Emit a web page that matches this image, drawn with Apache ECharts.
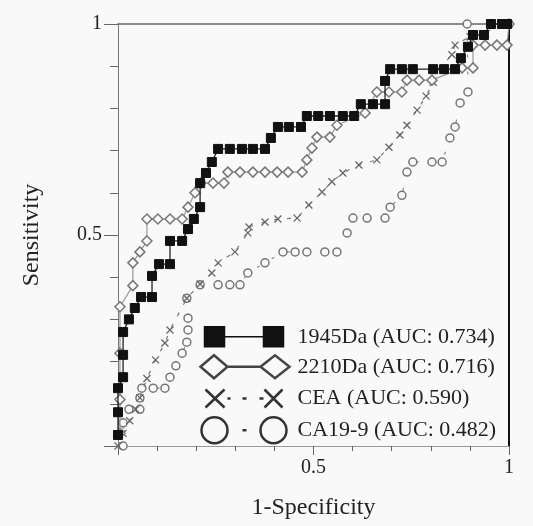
<!DOCTYPE html>
<html>
<head>
<meta charset="utf-8">
<script src="https://cdn.jsdelivr.net/npm/echarts@6/dist/echarts.min.js"></script>
<style>html,body{margin:0;padding:0;background:#f9f9f9;}#c{width:533px;height:526px;}</style>
</head>
<body>
<div id="c"></div>
<script>
// ---- data (1-Specificity, Sensitivity) ----
var seriesNames = ['1945Da (AUC: 0.734)', '2210Da (AUC: 0.716)', 'CEA (AUC: 0.590)', 'CA19-9 (AUC: 0.482)'];

var fpr1945 = [0, 0, 0, 0.013, 0.013, 0.013, 0.028, 0.043, 0.059, 0.087, 0.087, 0.105, 0.133, 0.133, 0.164, 0.179, 0.194, 0.21, 0.21, 0.225, 0.24, 0.256, 0.286, 0.317, 0.345, 0.376, 0.391, 0.409, 0.437, 0.468, 0.483, 0.512, 0.542, 0.575, 0.604, 0.621, 0.652, 0.683, 0.683, 0.696, 0.726, 0.754, 0.806, 0.834, 0.862, 0.877, 0.895, 0.908, 0.936, 0.954, 0.982, 0.995];
var sens1945 = [0.026, 0.08, 0.137, 0.163, 0.216, 0.27, 0.30, 0.327, 0.353, 0.353, 0.403, 0.431, 0.431, 0.486, 0.486, 0.514, 0.538, 0.566, 0.623, 0.647, 0.673, 0.704, 0.704, 0.704, 0.704, 0.704, 0.73, 0.756, 0.756, 0.756, 0.782, 0.782, 0.782, 0.782, 0.782, 0.81, 0.81, 0.81, 0.865, 0.893, 0.893, 0.893, 0.893, 0.893, 0.893, 0.919, 0.946, 0.974, 0.974, 1, 1, 1];

var fpr2210 = [0.005, 0.005, 0.005, 0.005, 0.038, 0.038, 0.056, 0.074, 0.074, 0.102, 0.133, 0.164, 0.179, 0.197, 0.212, 0.243, 0.271, 0.281, 0.312, 0.345, 0.376, 0.407, 0.435, 0.471, 0.483, 0.496, 0.509, 0.542, 0.56, 0.632, 0.662, 0.693, 0.726, 0.739, 0.77, 0.803, 0.88, 0.908, 0.908, 0.939, 0.969, 0.995, 1];
var sens2210 = [0.03, 0.11, 0.22, 0.33, 0.38, 0.434, 0.46, 0.486, 0.538, 0.538, 0.538, 0.538, 0.566, 0.6, 0.623, 0.623, 0.623, 0.649, 0.649, 0.649, 0.649, 0.649, 0.649, 0.649, 0.678, 0.706, 0.732, 0.732, 0.76, 0.789, 0.839, 0.839, 0.839, 0.867, 0.867, 0.867, 0.896, 0.896, 0.95, 0.95, 0.95, 0.95, 1];

var fprCEA = [0, 0.013, 0.03, 0.045, 0.056, 0.074, 0.096, 0.12, 0.133, 0.176, 0.21, 0.24, 0.256, 0.299, 0.332, 0.335, 0.376, 0.409, 0.458, 0.488, 0.522, 0.547, 0.575, 0.616, 0.662, 0.693, 0.721, 0.739, 0.765, 0.788, 0.806, 0.821, 0.854, 0.862, 0.9, 1];
var sensCEA = [0, 0.03, 0.06, 0.087, 0.114, 0.16, 0.204, 0.244, 0.275, 0.35, 0.384, 0.41, 0.434, 0.46, 0.505, 0.519, 0.531, 0.538, 0.54, 0.571, 0.602, 0.626, 0.647, 0.666, 0.678, 0.708, 0.737, 0.76, 0.796, 0.829, 0.862, 0.893, 0.927, 0.95, 0.97, 1];

var fprCA = [0.013, 0.013, 0.028, 0.056, 0.056, 0.061, 0.09, 0.12, 0.133, 0.148, 0.164, 0.176, 0.179, 0.179, 0.176, 0.21, 0.256, 0.286, 0.312, 0.332, 0.376, 0.422, 0.453, 0.483, 0.529, 0.56, 0.586, 0.601, 0.637, 0.683, 0.696, 0.726, 0.739, 0.754, 0.803, 0.829, 0.849, 0.862, 0.875, 0.895, 0.893, 1];
var sensCA = [0, 0.055, 0.087, 0.087, 0.114, 0.137, 0.137, 0.137, 0.163, 0.19, 0.22, 0.246, 0.275, 0.303, 0.35, 0.382, 0.382, 0.382, 0.382, 0.41, 0.434, 0.46, 0.46, 0.46, 0.46, 0.46, 0.505, 0.54, 0.54, 0.54, 0.566, 0.594, 0.649, 0.673, 0.673, 0.673, 0.73, 0.756, 0.813, 0.839, 1, 1];

var xTicks = ['0.5', '1'];
var yTicks = ['0.5', '1'];

function pairs(xs, ys) { return xs.map(function (x, i) { return [x, ys[i]]; }); }

var FONT = '"Liberation Serif", "Times New Roman", serif';
var xMark = 'path://M0,0L10,10M10,0L0,10';

var iconSquare = 'path://M0,0M93,28M5,4h20v20h-20zM25,14H64M64,4h20v20h-20z';
var iconDiamond = 'path://M0,0M93,28M1,14L14.5,2.5L28,14L14.5,25.5ZM28,14H61M61,14L75.5,2.5L90,14L75.5,25.5Z';
var iconX = 'path://M0,0M93,28M6,5L25,23M25,5L6,23M28,14H31M43,14H47M60,14H64M65,5L83,23M83,5L65,23';
var iconCircle = 'path://M0,0M93,28M2,14A13,13 0 1 0 28,14A13,13 0 1 0 2,14ZM43,14H47M61,14A13,13 0 1 0 87,14A13,13 0 1 0 61,14Z';

var chart = echarts.init(document.getElementById('c'), null, { renderer: 'canvas' });
chart.setOption({
  backgroundColor: '#f9f9f9',
  animation: false,
  grid: { left: 118, right: 24, top: 24, bottom: 80 },
  legend: {
    orient: 'vertical', left: 197, top: 322, padding: 0,
    itemWidth: 93, itemHeight: 28, itemGap: 0,
    textStyle: { fontFamily: FONT, fontSize: 22, color: '#222' },
    data: [
      { name: seriesNames[0], icon: iconSquare, itemStyle: { color: '#111', borderColor: '#111', borderWidth: 1.5 } },
      { name: seriesNames[1], icon: iconDiamond, itemStyle: { color: '#f9f9f9', borderColor: '#444', borderWidth: 2.5 } },
      { name: seriesNames[2], icon: iconX, itemStyle: { color: 'none', borderColor: '#333', borderWidth: 2.5 } },
      { name: seriesNames[3], icon: iconCircle, itemStyle: { color: '#f9f9f9', borderColor: '#333', borderWidth: 2.5 } }
    ]
  },
  xAxis: [{
    type: 'value', min: 0, max: 1, interval: 0.5, position: 'bottom',
    name: '1-Specificity', nameLocation: 'middle', nameGap: 50,
    nameTextStyle: { fontFamily: FONT, fontSize: 24, color: '#222' },
    axisLine: { show: true, onZero: false, lineStyle: { color: '#999', width: 1 } },
    axisTick: { show: true, length: 9, lineStyle: { color: '#666' } },
    minorTick: { show: true, splitNumber: 5, length: 5, lineStyle: { color: '#666' } },
    splitLine: { show: false },
    axisLabel: { fontFamily: FONT, fontSize: 20, color: '#222', margin: 12,
      formatter: function (v) { return v === 0.5 ? xTicks[0] : (v === 1 ? xTicks[1] : ''); } }
  }, {
    type: 'value', min: 0, max: 1, position: 'top',
    axisLine: { show: true, onZero: false, lineStyle: { color: '#666', width: 1.5 } },
    axisTick: { show: false }, axisLabel: { show: false }, splitLine: { show: false }
  }],
  yAxis: [{
    type: 'value', min: 0, max: 1, interval: 0.5, position: 'left',
    name: 'Sensitivity', nameLocation: 'middle', nameGap: 74, nameRotate: 90,
    nameTextStyle: { fontFamily: FONT, fontSize: 24, color: '#222' },
    axisLine: { show: true, onZero: false, lineStyle: { color: '#777', width: 1 } },
    axisTick: { show: true, length: 14, lineStyle: { color: '#666' } },
    minorTick: { show: true, splitNumber: 5, length: 8, lineStyle: { color: '#666' } },
    splitLine: { show: false },
    axisLabel: { fontFamily: FONT, fontSize: 20, color: '#222', margin: 16,
      formatter: function (v) { return v === 0.5 ? yTicks[0] : (v === 1 ? yTicks[1] : ''); } }
  }, {
    type: 'value', min: 0, max: 1, position: 'right',
    axisLine: { show: true, onZero: false, lineStyle: { color: '#111', width: 2 } },
    axisTick: { show: false }, axisLabel: { show: false }, splitLine: { show: false }
  }],
  series: [{
    name: seriesNames[3], type: 'line', data: pairs(fprCA, sensCA),
    symbol: 'circle', symbolSize: 8, z: 2,
    itemStyle: { color: '#f9f9f9', borderColor: '#777', borderWidth: 1.5 },
    lineStyle: { color: '#888', width: 1.2, type: [3, 14] }
  }, {
    name: seriesNames[2], type: 'line', data: pairs(fprCEA, sensCEA),
    symbol: xMark, symbolSize: 7, z: 3,
    itemStyle: { color: 'none', borderColor: '#666', borderWidth: 1.3 },
    lineStyle: { color: '#777', width: 1.2, type: [4, 9] }
  }, {
    name: seriesNames[1], type: 'line', data: pairs(fpr2210, sens2210),
    symbol: 'diamond', symbolSize: 10, z: 4,
    itemStyle: { color: '#f9f9f9', borderColor: '#777', borderWidth: 1.5 },
    lineStyle: { color: '#999', width: 1.2 }
  }, {
    name: seriesNames[0], type: 'line', data: pairs(fpr1945, sens1945),
    symbol: 'rect', symbolSize: 9, z: 5,
    itemStyle: { color: '#111', borderColor: '#111' },
    lineStyle: { color: '#222', width: 1.3 }
  }]
});
</script>
</body>
</html>
